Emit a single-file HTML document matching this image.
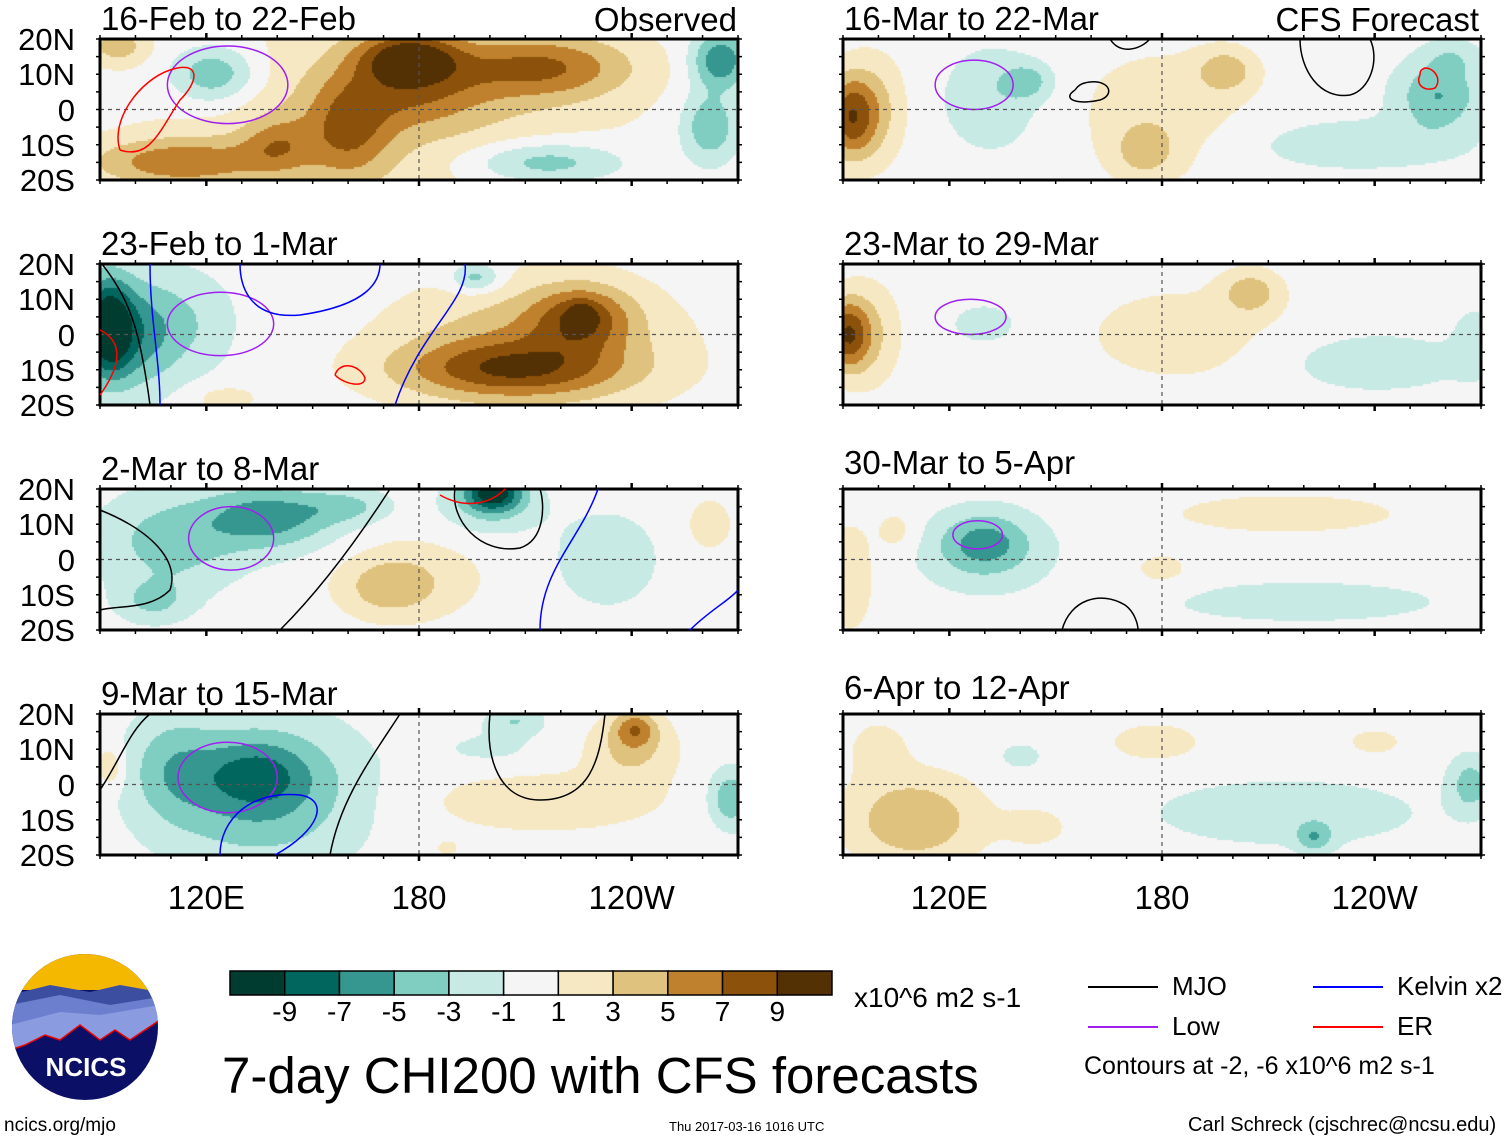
<!DOCTYPE html>
<html><head><meta charset="utf-8">
<style>
html,body{margin:0;padding:0;background:#fff;}
body{width:1510px;height:1142px;position:relative;overflow:hidden;font-family:"Liberation Sans",sans-serif;color:#000;}
.t{position:absolute;white-space:nowrap;line-height:1;z-index:6;}
canvas{position:absolute;z-index:1;}
svg{position:absolute;left:0;top:0;z-index:5;}
</style></head><body>
<div id="root"></div>
<svg id="ov" width="1510" height="1142"></svg>
<script>
// Domain: 90E..270E, 20S..20N
const lonMin=90, lonMax=270, latMin=-20, latMax=20;
const panelTitles=["16-Feb to 22-Feb","23-Feb to 1-Mar","2-Mar to 8-Mar","9-Mar to 15-Mar","16-Mar to 22-Mar","23-Mar to 29-Mar","30-Mar to 5-Apr","6-Apr to 12-Apr"];
const levels=[-9,-7,-5,-3,-1,1,3,5,7,9];
const colors=["#003c30","#01665e","#35978f","#80cdc1","#c7eae5","#f5f5f5","#f6e8c3","#dfc27d","#bf812d","#8c510a","#543005"];
// blobs: [lon, lat, amplitude, lonRadius, latRadius]
const blobsL1=[[175,0,3,60,30],[177,15,8,14,7],[160,-6,5,12,14],[178,5,4,20,10],[215,12,6,25,9],[112,-15,6,25,7],[140,-10,4,10,8],[95,18,4,8,5],[122,10,-5.5,12,8],[215,-15,-5,22,6],[265,14,-7,8,8],[262,-5,-5,8,10]];
const blobsL2=[[92,2,-10,7,14],[100,0,-5,12,16],[115,3,-2.5,14,15],[205,-10,6,32,8],[226,5,6,14,9],[226,5,3,4,4],[212,-3,4.5,38,18],[196,16,-4.5,7,4],[125,-18,2,10,4]];
const blobsL3=[[138,12,-6,18,9],[110,5,-4,20,14],[105,-12,-3,10,6],[160,15,-3,12,5],[201,19,-9,8,5],[200,15,-3,14,8],[171,-8,3.3,13,8],[180,-5,2,20,12],[233,0,-2.3,15,14],[262,10,2.5,6,7]];
const blobsL4=[[134,3,-3.5,14,9],[135,-2,-5.5,28,20],[110,5,-3,12,15],[93,5,3,4,6],[207,18,-3,8,4],[241,16,5,6,5],[240,10,3.5,12,9],[215,-5,2.2,35,9],[188,-18,2,3,2],[268,-4,-5,6,8],[200,10,-1.5,15,5]];
const blobsR1=[[92,-2,8,7,12],[100,0,3,8,15],[132,3,-2.5,14,15],[142,8,-3.5,7,5],[175,-12,3.3,9,8],[198,11,4,8,6],[180,0,2,25,18],[258,4,-5,12,10],[235,-10,-2.5,30,7],[262,15,-2,8,5]];
const blobsR2=[[91,0,8,6,10],[98,0,3,8,14],[205,12,4,8,6],[185,0,1.8,30,15],[240,-8,-2.5,25,8],[130,3,-2,10,6],[268,-2,-2,6,10]];
const blobsR3=[[92,-5,3,6,14],[130,5,-4,12,8],[130,2,-2.5,20,12],[220,-12,-2.2,40,6],[215,13,2,35,6],[180,-3,1.5,10,6],[105,8,2,6,6]];
const blobsR4=[[110,-10,5,18,12],[100,10,2,8,8],[215,-8,-2.2,40,10],[223,-15,-4,5,4],[267,0,-4,6,8],[178,12,2.5,12,5],[140,8,-1.5,8,5],[240,12,1.5,10,5],[145,-12,1.8,10,6]];
const allBlobs=[blobsL1,blobsL2,blobsL3,blobsL4,blobsR1,blobsR2,blobsR3,blobsR4];
// purple "Low" contours: [lon, lat, lonRadius, latRadius]
const lowContours=[[126,7,17,11],[124,3,15,9],[127,6,12,9],[126,2,14,10],[127,7,11,7],[126,5,10,5],[128,7,7,4],[500,0,1,1]];
const colBarTicks=["-9","-7","-5","-3","-1","1","3","5","7","9"];
const xTicks=[[120,"120E"],[180,"180"],[240,"120W"]];
const yTicks=[[20,"20N"],[10,"10N"],[0,"0"],[-10,"10S"],[-20,"20S"]];

const W=638,H=141;
const panelX=[100,100,100,100,843,843,843,843];
const panelY=[39,264,489,714,39,264,489,714];
const ov=document.getElementById('ov');
const NS="http://www.w3.org/2000/svg";
function sx(i,lon){return panelX[i]+(lon-lonMin)/(lonMax-lonMin)*W;}
function sy(i,lat){return panelY[i]+(latMax-lat)/(latMax-latMin)*H;}
function field(b,lon,lat){let v=0;for(const k of b){const dx=(lon-k[0])/k[3],dy=(lat-k[1])/k[4];v+=k[2]*Math.exp(-(dx*dx+dy*dy));}return v;}
function colIdx(v){let i=0;while(i<levels.length&&v>=levels[i])i++;return i;}
function mk(tag,attrs){const e=document.createElementNS(NS,tag);for(const a in attrs)e.setAttribute(a,attrs[a]);ov.appendChild(e);return e;}
function txt(x,y,s,size,name,extra){const d=document.createElement('div');d.className='t';d.style.left=x+'px';d.style.top=y+'px';d.style.fontSize=size+'px';if(extra)Object.assign(d.style,extra);d.textContent=s;


document.body.appendChild(d);return d;}

for(let i=0;i<8;i++){
  const c=document.createElement('canvas');c.width=W;c.height=H;c.style.left=panelX[i]+'px';c.style.top=panelY[i]+'px';
  
  
  document.body.appendChild(c);
  const g=c.getContext('2d');
  for(let py=0;py<H;py+=2)for(let px=0;px<W;px+=2){
    const lon=lonMin+(px+1)/W*(lonMax-lonMin),lat=latMax-(py+1)/H*(latMax-latMin);
    g.fillStyle=colors[colIdx(field(allBlobs[i],lon,lat))];g.fillRect(px,py,2,2);
  }
  const lc=lowContours[i];
  const el=mk('ellipse',{cx:sx(i,lc[0]),cy:sy(i,lc[1]),rx:lc[2]/(lonMax-lonMin)*W,ry:lc[3]/(latMax-latMin)*H,fill:'none',stroke:'#a020f0','stroke-width':1.5});
  
  
  const eq=mk('line',{x1:panelX[i],x2:panelX[i]+W,y1:sy(i,0),y2:sy(i,0),stroke:'#555','stroke-dasharray':'4,4','stroke-width':1.2});
  
  
  const dl=mk('line',{x1:sx(i,180),x2:sx(i,180),y1:panelY[i],y2:panelY[i]+H,stroke:'#555','stroke-dasharray':'4,4','stroke-width':1.2});
  
  
  for(let lon=90;lon<=270;lon+=10){const big=(lon%60===0);for(const yy of [panelY[i],panelY[i]+H]){const d=yy===panelY[i]?-1:1;mk('line',{x1:sx(i,lon),x2:sx(i,lon),y1:yy,y2:yy+d*(big?6:4),stroke:'#000','stroke-width':big?2.5:1.5});}}
  for(let lat=-20;lat<=20;lat+=5){mk('line',{x1:panelX[i],x2:panelX[i]-4,y1:sy(i,lat),y2:sy(i,lat),stroke:'#000','stroke-width':1.5});mk('line',{x1:panelX[i]+W,x2:panelX[i]+W+4,y1:sy(i,lat),y2:sy(i,lat),stroke:'#000','stroke-width':1.5});}
  const fr=mk('rect',{x:panelX[i],y:panelY[i],width:W,height:H,fill:'none',stroke:'#000','stroke-width':3});
  
  
  const ty=(i<6)?panelY[i]-37:panelY[i]-43;
  txt(panelX[i]+1,ty,panelTitles[i],33,'panel-title');
  if(i<4){for(const t of yTicks){txt(0,sy(i,t[0])-15,t[1],31,'y-tick-label',{width:'75px',textAlign:'right'});}}
}
const extraLines=[
 ['M102,264 C130,300 140,330 150,405','#000'],['M150,264 C150,320 160,360 160,405','#00f'],['M465,264 C470,300 420,330 395,405','#00f'],
 ['M240,264 C240,280 245,320 300,315 C370,305 380,280 380,264','#00f'],['M100,330 C120,340 125,360 100,395','#f00'],
 ['M335,375 C340,360 360,365 365,378 C365,388 345,385 335,375','#f00'],
 ['M100,510 C150,530 180,560 170,590 C150,610 120,605 100,610','#000'],['M280,630 C330,580 370,520 390,489','#000'],
 ['M455,489 C450,520 480,555 520,548 C545,540 545,505 540,489','#000'],['M598,489 C580,540 540,570 540,630','#00f'],['M690,630 C710,610 730,600 738,590','#00f'],
 ['M490,714 C485,760 500,800 540,800 C590,800 600,760 605,714','#000'],['M400,714 C370,760 340,800 330,855','#000'],['M150,714 C130,730 120,760 100,790','#000'],
 ['M220,855 C220,820 250,790 300,795 C330,800 320,830 275,855','#00f'],
 ['M1300,39 C1300,70 1320,100 1350,95 C1370,90 1380,60 1370,39','#000'],['M1075,90 C1060,100 1080,105 1100,100 C1115,95 1110,80 1090,82 C1080,83 1077,87 1075,90','#000'],
 ['M1110,39 C1120,55 1140,50 1150,39','#000'],
 ['M1062,630 C1070,600 1100,590 1125,605 C1135,612 1138,625 1138,630','#000'],
 ['M120,150 C110,120 140,80 170,70 C200,60 200,80 180,100 C160,130 150,160 120,150','#f00'],
 ['M440,495 C470,512 495,500 505,489','#f00'],
 ['M1420,75 C1415,85 1425,92 1435,88 C1442,80 1435,68 1425,68 C1420,70 1420,72 1420,75','#f00']];
extraLines.forEach(function(l,k){const p=mk('path',{d:l[0],fill:'none',stroke:l[1],'stroke-width':1.5});

});

txt(587,3,'Observed',33,'observed-label',{width:'150px',textAlign:'right',left:'587px'});
txt(1264,3,'CFS Forecast',33,'forecast-label',{width:'215px',textAlign:'right'});
for(const base of [100,843]){for(const t of xTicks){const x=base+(t[0]-lonMin)/(lonMax-lonMin)*W;txt(x-60,881,t[1],33,'x-tick-label',{width:'120px',textAlign:'center'});}}

const cbX=230,cbY=971,cbW=602,cbH=24,cw=cbW/colors.length;
colors.forEach(function(c,k){const r=mk('rect',{x:cbX+k*cw,y:cbY,width:cw,height:cbH,fill:c,stroke:'#000','stroke-width':1.5});

});
colBarTicks.forEach(function(t,k){txt(cbX+(k+1)*cw-30,998,t,28,'colorbar-tick-label',{width:'60px',textAlign:'center'});});
txt(854,984,'x10^6 m2 s-1',28,'colorbar-units');
txt(222,1050,'7-day CHI200 with CFS forecasts',51,'figure-title');
const leg=[[1088,987,'#000','MJO'],[1313,987,'#00f','Kelvin x2'],[1088,1027,'#a020f0','Low'],[1313,1027,'#f00','ER']];
leg.forEach(function(l){const ln=mk('line',{x1:l[0],x2:l[0]+70,y1:l[1],y2:l[1],stroke:l[2],'stroke-width':2});


txt(l[0]+84,l[1]-14,l[3],26,'legend-label');});
txt(1084,1054,'Contours at -2, -6 x10^6 m2 s-1',25,'contour-note');
txt(4,1116,'ncics.org/mjo',19,'source-url');
txt(669,1120,'Thu 2017-03-16 1016 UTC',13,'timestamp');
txt(1188,1115,'Carl Schreck (cjschrec@ncsu.edu)',20,'author-credit');

const lg=document.createElementNS(NS,'g');ov.appendChild(lg);
lg.innerHTML='<defs><clipPath id="cc"><circle cx="85" cy="1027" r="73"/></clipPath></defs><g clip-path="url(#cc)"><rect x="10" y="950" width="150" height="160" fill="#0b1066"/><rect x="10" y="950" width="150" height="40" fill="#f5b800"/><path d="M10,995 L50,985 L90,992 L120,985 L160,992 L160,1020 L10,1030Z" fill="#3c4ea0"/><path d="M10,1005 L60,995 L110,1005 L160,997 L160,1015 L10,1035Z" fill="#6c7fcf"/><path d="M10,1025 L60,1012 L100,1015 L160,1005 L160,1020 L130,1040 L115,1030 L100,1040 L80,1025 L60,1040 L45,1035 L25,1045 L10,1050Z" fill="#8a9be0"/><path d="M10,1050 L25,1045 L45,1035 L60,1040 L80,1025 L100,1040 L115,1030 L130,1040 L160,1020" fill="none" stroke="#e00" stroke-width="1.5"/></g><text x="86" y="1076" font-family="Liberation Sans" font-weight="bold" font-size="26" fill="#fff" text-anchor="middle">NCICS</text>';
</script>
</body></html>
